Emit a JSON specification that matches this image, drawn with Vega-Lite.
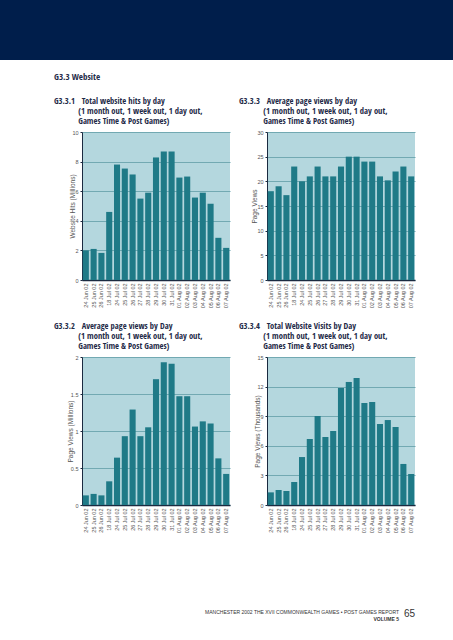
{
  "$schema": "https://vega.github.io/schema/vega-lite/v6.json",
  "padding": 0,
  "background": "white",
  "datasets": {
    "web": [
      {"date": "24 Jun 02", "hits": 2.0, "avgViews": 18, "pageViews": 0.13, "visits": 1.28},
      {"date": "25 Jun 02", "hits": 2.1, "avgViews": 19, "pageViews": 0.15, "visits": 1.52},
      {"date": "26 Jun 02", "hits": 1.83, "avgViews": 17.2, "pageViews": 0.13, "visits": 1.42},
      {"date": "18 Jul 02", "hits": 4.6, "avgViews": 23, "pageViews": 0.32, "visits": 2.33},
      {"date": "24 Jul 02", "hits": 7.8, "avgViews": 20, "pageViews": 0.64, "visits": 4.86},
      {"date": "25 Jul 02", "hits": 7.53, "avgViews": 21, "pageViews": 0.93, "visits": 6.69},
      {"date": "26 Jul 02", "hits": 7.13, "avgViews": 23, "pageViews": 1.29, "visits": 9.02},
      {"date": "27 Jul 02", "hits": 5.5, "avgViews": 21, "pageViews": 0.93, "visits": 6.89},
      {"date": "28 Jul 02", "hits": 5.9, "avgViews": 21, "pageViews": 1.05, "visits": 7.5},
      {"date": "29 Jul 02", "hits": 8.28, "avgViews": 23, "pageViews": 1.70, "visits": 11.86},
      {"date": "30 Jul 02", "hits": 8.69, "avgViews": 25, "pageViews": 1.93, "visits": 12.47},
      {"date": "31 Jul 02", "hits": 8.69, "avgViews": 25, "pageViews": 1.91, "visits": 12.87},
      {"date": "01 Aug 02", "hits": 6.92, "avgViews": 24, "pageViews": 1.47, "visits": 10.34},
      {"date": "02 Aug 02", "hits": 6.99, "avgViews": 24, "pageViews": 1.47, "visits": 10.44},
      {"date": "03 Aug 02", "hits": 5.57, "avgViews": 21, "pageViews": 1.06, "visits": 8.21},
      {"date": "04 Aug 02", "hits": 5.9, "avgViews": 20.2, "pageViews": 1.13, "visits": 8.61},
      {"date": "05 Aug 02", "hits": 5.16, "avgViews": 22, "pageViews": 1.10, "visits": 7.9},
      {"date": "06 Aug 02", "hits": 2.85, "avgViews": 23, "pageViews": 0.63, "visits": 4.16},
      {"date": "07 Aug 02", "hits": 2.17, "avgViews": 21, "pageViews": 0.42, "visits": 3.14}
    ]
  },
  "spacing": 12,
  "title": {
    "text": "MANCHESTER 2002 THE XVII COMMONWEALTH GAMES \u2022 POST GAMES REPORT",
    "subtitle": "VOLUME 5",
    "orient": "bottom",
    "anchor": "end",
    "frame": "bounds",
    "dx": -54,
    "offset": -9,
    "font": "Liberation Sans, DejaVu Sans, sans-serif",
    "fontSize": 5,
    "fontWeight": "normal",
    "color": "#333333",
    "subtitleFont": "Liberation Sans, DejaVu Sans, sans-serif",
    "subtitleFontSize": 5,
    "subtitleFontWeight": "bold",
    "subtitleColor": "#333333",
    "subtitlePadding": 2
  },
  "vconcat": [
    {
      "width": 453,
      "height": 60,
      "data": {"values": [{}]},
      "mark": {"type": "rect", "color": "#001E4B"},
      "encoding": {},
      "view": {"fill": "#001E4B", "stroke": null}
    },
    {
      "title": {
        "text": "G3.3 Website",
        "anchor": "start",
        "frame": "group",
        "dx": 54,
        "offset": 15,
        "fontSize": 9,
        "lineHeight": 10
      },
      "spacing": 0,
      "hconcat": [
        {
          "width": 42,
          "height": 148,
          "data": {"values": []},
          "mark": "point",
          "encoding": {},
          "view": {"fill": null, "stroke": null}
        },
        {
          "width": 148,
          "height": 148,
          "data": {"name": "web"},
          "title": {
            "text": [
              "G3.3.1\u00a0\u00a0\u00a0Total website hits by day",
              "\u200b\u00a0\u00a0\u00a0\u00a0\u00a0\u00a0\u00a0\u00a0\u00a0\u00a0\u00a0(1 month out, 1 week out, 1 day out,",
              "\u200b\u00a0\u00a0\u00a0\u00a0\u00a0\u00a0\u00a0\u00a0\u00a0\u00a0\u00a0Games Time & Post Games)"
            ],
            "dx": -28
          },
          "mark": {"type": "bar", "color": "#1F7A87"},
          "encoding": {
            "x": {
              "field": "date", "type": "nominal", "sort": null, "title": null,
              "scale": {"paddingInner": 0.22, "paddingOuter": 0.1},
              "axis": {"minExtent": 28}
            },
            "y": {
              "field": "hits", "type": "quantitative", "title": "Website Hits (Millions)",
              "scale": {"domain": [0, 10], "nice": false},
              "axis": {"values": [0, 2, 4, 6, 8, 10], "minExtent": 40, "titleX": -7, "titleY": 74}
            }
          }
        },
        {
          "width": 148,
          "height": 148,
          "data": {"name": "web"},
          "title": {
            "text": [
              "G3.3.3\u00a0\u00a0\u00a0Average page views by day",
              "\u200b\u00a0\u00a0\u00a0\u00a0\u00a0\u00a0\u00a0\u00a0\u00a0\u00a0\u00a0(1 month out, 1 week out, 1 day out,",
              "\u200b\u00a0\u00a0\u00a0\u00a0\u00a0\u00a0\u00a0\u00a0\u00a0\u00a0\u00a0Games Time & Post Games)"
            ],
            "dx": -28
          },
          "mark": {"type": "bar", "color": "#1F7A87"},
          "encoding": {
            "x": {
              "field": "date", "type": "nominal", "sort": null, "title": null,
              "scale": {"paddingInner": 0.22, "paddingOuter": 0.1},
              "axis": {"minExtent": 28}
            },
            "y": {
              "field": "avgViews", "type": "quantitative", "title": "Page Views",
              "scale": {"domain": [0, 30], "nice": false},
              "axis": {"values": [0, 5, 10, 15, 20, 25, 30], "minExtent": 37, "titleX": -10, "titleY": 74}
            }
          }
        }
      ]
    },
    {
      "title": {
        "text": "65",
        "orient": "bottom",
        "anchor": "end",
        "frame": "bounds",
        "offset": 76,
        "font": "Liberation Sans, DejaVu Sans, sans-serif",
        "fontSize": 10,
        "fontWeight": "normal",
        "color": "#333333"
      },
      "spacing": 0,
      "hconcat": [
        {
          "width": 42,
          "height": 148,
          "data": {"values": []},
          "mark": "point",
          "encoding": {},
          "view": {"fill": null, "stroke": null}
        },
        {
          "width": 148,
          "height": 148,
          "data": {"name": "web"},
          "title": {
            "text": [
              "G3.3.2\u00a0\u00a0\u00a0Average page views by Day",
              "\u200b\u00a0\u00a0\u00a0\u00a0\u00a0\u00a0\u00a0\u00a0\u00a0\u00a0\u00a0(1 month out, 1 week out, 1 day out,",
              "\u200b\u00a0\u00a0\u00a0\u00a0\u00a0\u00a0\u00a0\u00a0\u00a0\u00a0\u00a0Games Time & Post Games)"
            ],
            "dx": -28
          },
          "mark": {"type": "bar", "color": "#1F7A87"},
          "encoding": {
            "x": {
              "field": "date", "type": "nominal", "sort": null, "title": null,
              "scale": {"paddingInner": 0.22, "paddingOuter": 0.1},
              "axis": {"minExtent": 28}
            },
            "y": {
              "field": "pageViews", "type": "quantitative", "title": "Page Views (Millions)",
              "scale": {"domain": [0, 2], "nice": false},
              "axis": {"values": [0, 0.5, 1, 1.5, 2], "format": "~g", "minExtent": 40, "titleX": -9, "titleY": 74}
            }
          }
        },
        {
          "width": 148,
          "height": 148,
          "data": {"name": "web"},
          "title": {
            "text": [
              "G3.3.4\u00a0\u00a0\u00a0Total Website Visits by Day",
              "\u200b\u00a0\u00a0\u00a0\u00a0\u00a0\u00a0\u00a0\u00a0\u00a0\u00a0\u00a0(1 month out, 1 week out, 1 day out,",
              "\u200b\u00a0\u00a0\u00a0\u00a0\u00a0\u00a0\u00a0\u00a0\u00a0\u00a0\u00a0Games Time & Post Games)"
            ],
            "dx": -28
          },
          "mark": {"type": "bar", "color": "#1F7A87"},
          "encoding": {
            "x": {
              "field": "date", "type": "nominal", "sort": null, "title": null,
              "scale": {"paddingInner": 0.22, "paddingOuter": 0.1},
              "axis": {"minExtent": 28}
            },
            "y": {
              "field": "visits", "type": "quantitative", "title": "Page Views (Thousands)",
              "scale": {"domain": [0, 15], "nice": false},
              "axis": {"values": [0, 3, 6, 9, 12, 15], "minExtent": 37, "titleX": -7, "titleY": 74}
            }
          }
        }
      ]
    }
  ],
  "config": {
    "view": {"fill": "#B4D7DE", "stroke": null},
    "title": {
      "font": "Open Sans Condensed, Roboto Condensed, sans-serif",
      "fontSize": 8.5,
      "fontWeight": "bold",
      "color": "#1E2A47",
      "anchor": "start",
      "frame": "group",
      "lineHeight": 10,
      "offset": 5
    },
    "axis": {
      "labelFont": "Liberation Sans, DejaVu Sans, sans-serif",
      "titleFont": "Liberation Sans, DejaVu Sans, sans-serif",
      "labelFontSize": 5.5,
      "labelColor": "#555555",
      "titleFontSize": 6.5,
      "titleFontWeight": "normal",
      "titleColor": "#555555",
      "domainColor": "#1A2A40"
    },
    "axisX": {
      "labelAngle": -90,
      "ticks": false,
      "labelPadding": 3,
      "domainWidth": 1.5,
      "grid": false
    },
    "axisY": {
      "grid": true,
      "gridColor": "#72A9B2",
      "gridWidth": 1,
      "tickSize": 2,
      "tickColor": "#1A2A40",
      "labelPadding": 2,
      "domainWidth": 1
    }
  }
}
